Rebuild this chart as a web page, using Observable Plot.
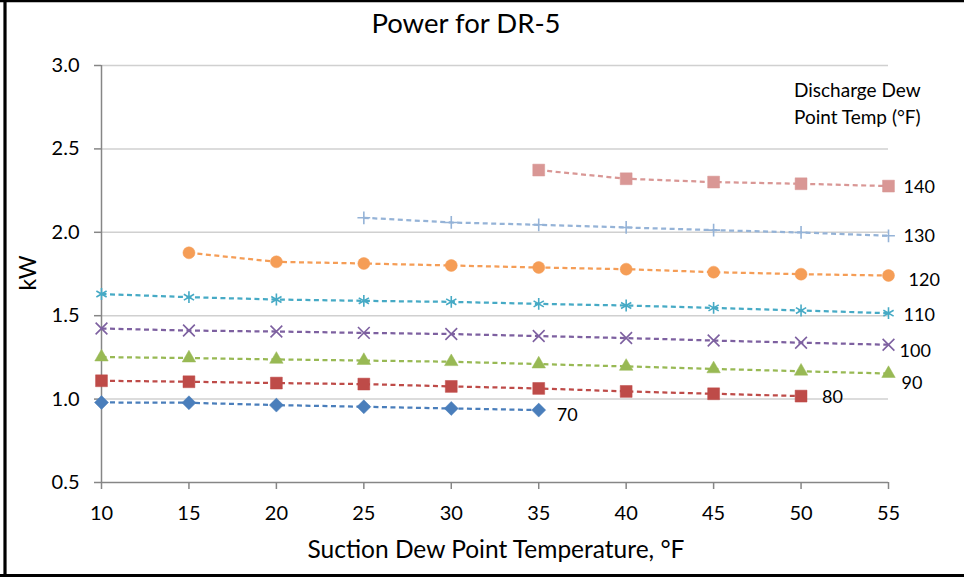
<!DOCTYPE html>
<html>
<head>
<meta charset="utf-8">
<script src="https://cdn.jsdelivr.net/npm/d3@7"></script>
<script src="https://cdn.jsdelivr.net/npm/@observablehq/plot@0.6"></script>
<style>
  html, body { margin: 0; padding: 0; background: white; }
</style>
</head>
<body>
<div id="chart"></div>
<script>
// ---- Data ----
const suctionTemps = [10, 15, 20, 25, 30, 35, 40, 45, 50, 55];
const xTicks = [10, 15, 20, 25, 30, 35, 40, 45, 50, 55];
const yTicks = [0.5, 1.0, 1.5, 2.0, 2.5, 3.0];
const dischargeTemps = [70, 80, 90, 100, 110, 120, 130, 140];

const kW_70  = [0.980, 0.978, 0.964, 0.954, 0.944, 0.934, null, null, null, null];
const kW_80  = [1.110, 1.104, 1.096, 1.090, 1.076, 1.064, 1.046, 1.032, 1.018, null];
const kW_90  = [1.252, 1.246, 1.238, 1.231, 1.224, 1.210, 1.196, 1.181, 1.167, 1.153];
const kW_100 = [1.423, 1.411, 1.405, 1.397, 1.390, 1.378, 1.366, 1.351, 1.338, 1.326];
const kW_110 = [1.630, 1.611, 1.597, 1.589, 1.583, 1.571, 1.561, 1.547, 1.531, 1.515];
const kW_120 = [null, 1.877, 1.823, 1.813, 1.801, 1.789, 1.779, 1.761, 1.749, 1.741];
const kW_130 = [null, null, null, 2.087, 2.059, 2.045, 2.029, 2.013, 1.999, 1.979];
const kW_140 = [null, null, null, null, null, 2.373, 2.321, 2.301, 2.291, 2.277];

const seriesValues = [kW_70, kW_80, kW_90, kW_100, kW_110, kW_120, kW_130, kW_140];

// ---- Styles ----
const seriesStyle = {
  70:  {color: "#4A7EBB", symbol: "diamond2", r: 6.3, filled: true,  ldx: 18, ldy: 11},
  80:  {color: "#BE4B48", symbol: "square",   r: 6.7, filled: true,  ldx: 21, ldy: 7},
  90:  {color: "#98B954", symbol: "triangle", r: 5.0, filled: true,  ldx: 13, ldy: 15},
  100: {color: "#7D60A0", symbol: "times",    r: 5.4, filled: false, ldx: 11, ldy: 12},
  110: {color: "#46AAC5", symbol: "asterisk", r: 5.6, filled: false, ldx: 15, ldy: 8},
  120: {color: "#F59D56", symbol: "circle",   r: 6.0, filled: true,  ldx: 20, ldy: 10},
  130: {color: "#95B3D7", symbol: "plus",     r: 4.2, filled: false, ldx: 15, ldy: 6},
  140: {color: "#D99795", symbol: "square",   r: 6.7, filled: true,  ldx: 15, ldy: 7}
};

const rows = [];
dischargeTemps.forEach((d, i) => {
  seriesValues[i].forEach((v, j) => {
    if (v != null) rows.push({discharge: d, suction: suctionTemps[j], kw: v});
  });
});

const FONT = "Lato, 'Open Sans', sans-serif";
const axisColor = "#868686";
const gridColor = "#D0D0D0";

const marks = [
  Plot.gridY(yTicks.filter(t => t > 0.5), {stroke: gridColor, strokeOpacity: 1, strokeWidth: 1.5}),
  Plot.ruleX([10], {stroke: axisColor, strokeWidth: 1.5}),
  Plot.ruleY([0.5], {stroke: axisColor, strokeWidth: 1.5}),
  Plot.axisY({ticks: yTicks, tickFormat: d3.format(".1f"), tickSize: 7, tickPadding: 15,
              fontSize: 20, stroke: axisColor, fill: "#000", strokeWidth: 1.5, label: null}),
  Plot.axisX({ticks: xTicks, tickFormat: d => String(d), tickSize: 7, tickPadding: 16,
              fontSize: 20, stroke: axisColor, fill: "#000", strokeWidth: 1.5, label: null})
];

dischargeTemps.forEach(d => {
  const s = seriesStyle[d];
  const data = rows.filter(r => r.discharge === d);
  marks.push(Plot.line(data, {x: "suction", y: "kw", stroke: s.color, strokeWidth: 2.25,
                               strokeDasharray: "5,3.5", strokeLinecap: "butt"}));
  marks.push(Plot.dot(data, {x: "suction", y: "kw", symbol: () => s.symbol, r: s.r,
                              fill: s.filled ? s.color : "none",
                              stroke: s.color, strokeWidth: s.filled ? 0.5 : 1.6}));
  marks.push(Plot.text(data.slice(-1), {x: "suction", y: "kw", text: () => String(d),
                              dx: s.ldx, dy: s.ldy, textAnchor: "start", lineAnchor: "bottom",
                              fontSize: 18, fill: "#000"}));
});

const chart = Plot.plot({
  width: 964,
  height: 577,
  marginLeft: 101,
  marginRight: 76,
  marginTop: 65,
  marginBottom: 95,
  style: {fontFamily: FONT, background: "white", color: "#000"},
  x: {domain: [10, 55], axis: null},
  y: {domain: [0.5, 3.0], axis: null},
  symbol: {type: "identity"},
  marks
});

document.getElementById("chart").appendChild(chart);

const svg = d3.select(chart);
// Border (top, left, bottom)
svg.append("line").attr("x1", 0).attr("x2", 964).attr("y1", 1).attr("y2", 1)
  .attr("stroke", "#000").attr("stroke-width", 2.5);
svg.append("line").attr("x1", 5).attr("x2", 5).attr("y1", 0).attr("y2", 577)
  .attr("stroke", "#000").attr("stroke-width", 3.2);
svg.append("line").attr("x1", 0).attr("x2", 964).attr("y1", 575.6).attr("y2", 575.6)
  .attr("stroke", "#000").attr("stroke-width", 3);
// Title
svg.append("text").attr("x", 466).attr("y", 33).attr("text-anchor", "middle")
  .attr("font-size", 27.5).attr("font-family", FONT).attr("fill", "#000").text("Power for DR-5");
// X axis title
svg.append("text").attr("x", 496).attr("y", 558).attr("text-anchor", "middle")
  .attr("font-size", 24.5).attr("font-family", FONT).attr("fill", "#000")
  .text("Suction Dew Point Temperature, °F");
// Y axis title
svg.append("text").attr("transform", "translate(36,273) rotate(-90)").attr("text-anchor", "middle")
  .attr("font-size", 23).attr("font-family", FONT).attr("fill", "#000").text("kW");
// Legend title
const lg = svg.append("text").attr("text-anchor", "start").attr("font-size", 19)
  .attr("font-family", FONT).attr("fill", "#000");
lg.append("tspan").attr("x", 794).attr("y", 97).text("Discharge Dew");
lg.append("tspan").attr("x", 794).attr("y", 124).text("Point Temp (°F)");
</script>
</body>
</html>
